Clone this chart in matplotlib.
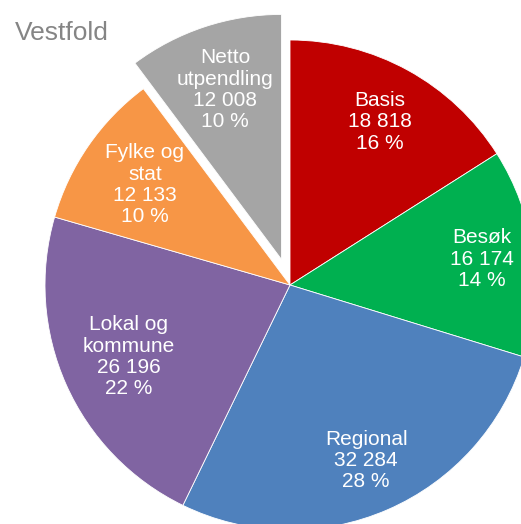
import numpy as np
import matplotlib
matplotlib.use("Agg")
import matplotlib.pyplot as plt

plt.rcParams['font.family'] = ['Liberation Sans', 'DejaVu Sans']

categories = ["Basis", "Besøk", "Regional", "Lokal og\nkommune", "Fylke og\nstat", "Netto\nutpendling"]
values = [18818, 16174, 32284, 26196, 12133, 12008]
shares = [16, 14, 28, 22, 10, 10]
colors = ["#C00000", "#00B050", "#4F81BD", "#8064A2", "#F79646", "#A5A5A5"]
explode = [0, 0, 0, 0, 0, 0.11]
label_r = [0.76, 0.79, 0.78, 0.72, 0.72, 0.73]
title = "Vestfold"

W, H = 521, 524
fig = plt.figure(figsize=(W / 100, H / 100), dpi=100)
ax = fig.add_axes([0, 0, 1, 1])
cx, cy, R = 290, 285, 245

wedges, _ = ax.pie(values, colors=colors, startangle=90, counterclock=False,
                   explode=explode, radius=1.0,
                   wedgeprops=dict(linewidth=0.6, edgecolor='white'))
ax.set_xlim((0 - cx) / R, (W - cx) / R)
ax.set_ylim((cy - H) / R, (cy - 0) / R)
ax.set_aspect('equal')
ax.axis('off')

def fmt(v):
    return f"{v:,}".replace(",", " ")

for w, cat, v, s, lr in zip(wedges, categories, values, shares, label_r):
    w.set_clip_on(False)
    th = np.deg2rad((w.theta1 + w.theta2) / 2)
    x0, y0 = w.center
    ax.text(x0 + lr * w.r * np.cos(th), y0 + lr * w.r * np.sin(th),
            f"{cat}\n{fmt(v)}\n{s} %", ha='center', va='center',
            multialignment='center',
            color='white', fontsize=15, linespacing=1.15)

fig.text(15 / W, 1 - 33 / H, title, ha='left', va='center',
         fontsize=19, color='#858585')

fig.savefig("out.png", dpi=100)
